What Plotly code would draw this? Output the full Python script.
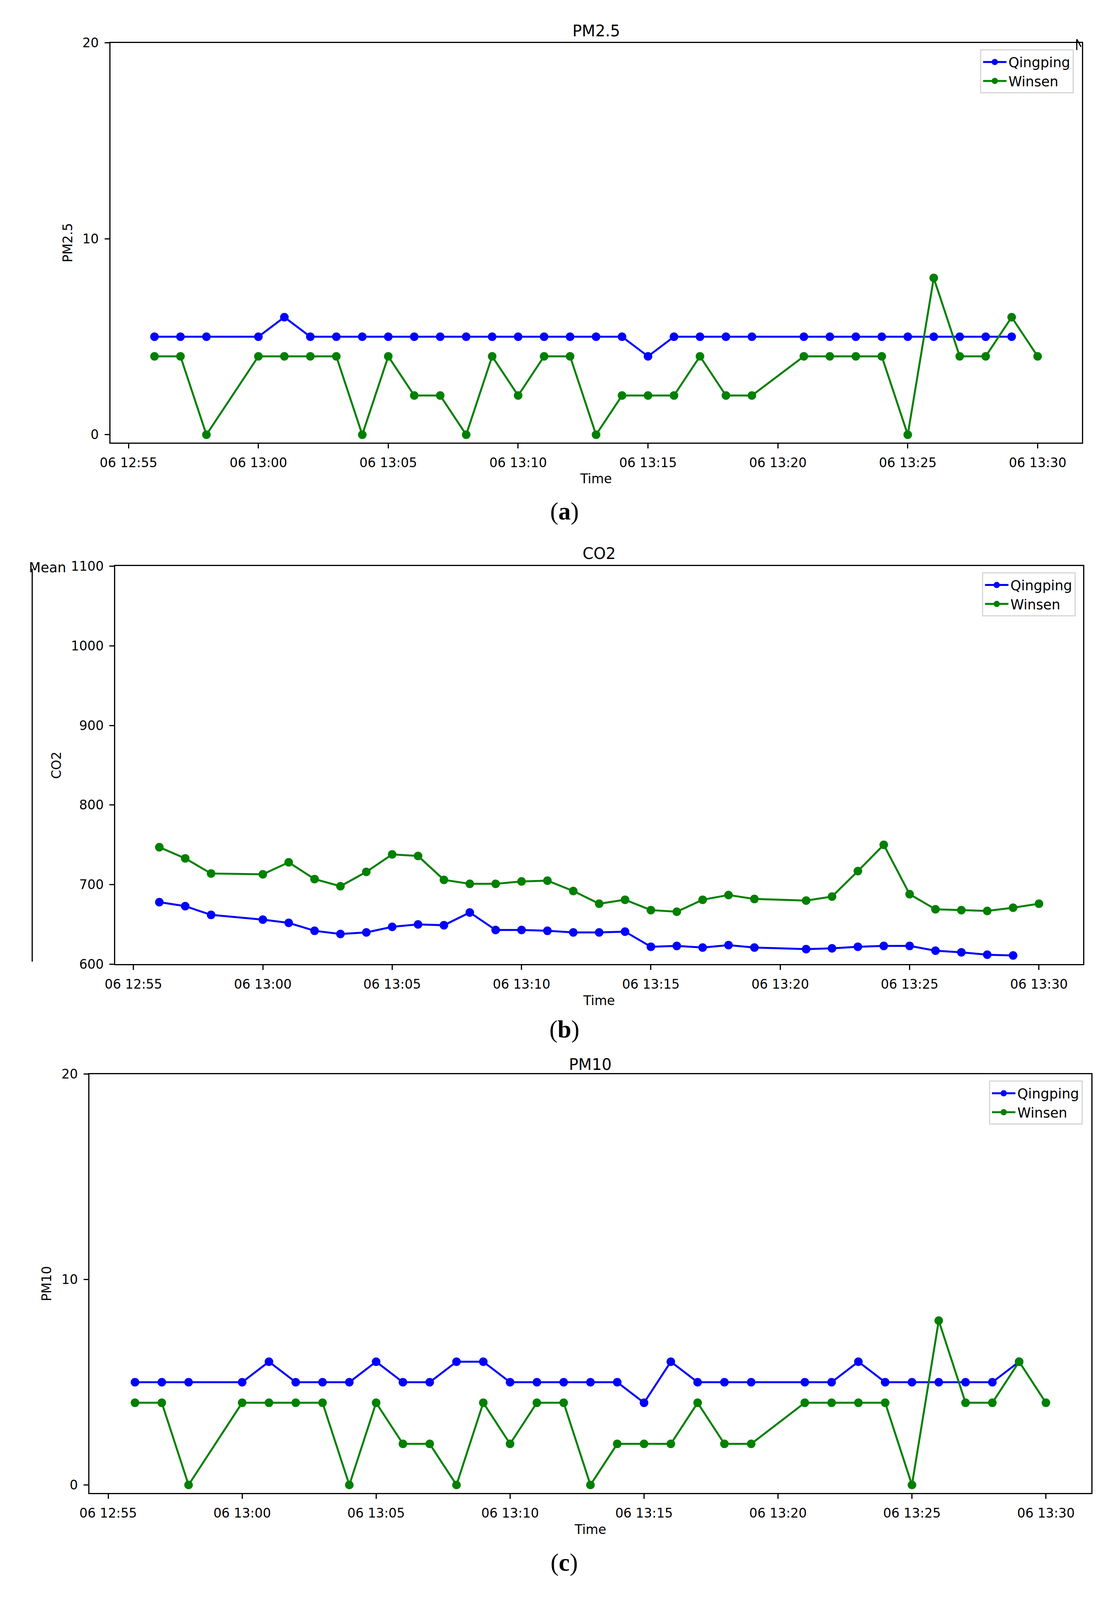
import plotly.graph_objects as go

# reference picture size (positions below are measured in it)
W, H = 2830, 4833
# the browser only shows 4096 px of height, so the figure is drawn to that and
# everything is placed in paper fractions of the reference picture
VIEW_H = 4096
FS = 0.9  # text/marker scale for the squeezed height
DAY = "2023-06-06 "

# --- data ---
qingping_times = ["12:56", "12:57", "12:58",
                  "13:00", "13:01", "13:02", "13:03", "13:04", "13:05", "13:06", "13:07", "13:08", "13:09",
                  "13:10", "13:11", "13:12", "13:13", "13:14", "13:15", "13:16", "13:17", "13:18", "13:19",
                  "13:21", "13:22", "13:23", "13:24", "13:25", "13:26", "13:27", "13:28", "13:29"]
winsen_times = qingping_times + ["13:30"]

pm25_qingping = [5, 5, 5,
                 5, 6, 5, 5, 5, 5, 5, 5, 5, 5,
                 5, 5, 5, 5, 5, 4, 5, 5, 5, 5,
                 5, 5, 5, 5, 5, 5, 5, 5, 5]
pm25_winsen = [4, 4, 0,
               4, 4, 4, 4, 0, 4, 2, 2, 0, 4,
               2, 4, 4, 0, 2, 2, 2, 4, 2, 2,
               4, 4, 4, 4, 0, 8, 4, 4, 6, 4]

co2_qingping = [678, 673, 662,
                656, 652, 642, 638, 640, 647, 650, 649, 665, 643,
                643, 642, 640, 640, 641, 622, 623, 621, 624, 621,
                619, 620, 622, 623, 623, 617, 615, 612, 611]
co2_winsen = [747, 733, 714,
              713, 728, 707, 698, 716, 738, 736, 706, 701, 701,
              704, 705, 692, 676, 681, 668, 666, 681, 687, 682,
              680, 685, 717, 750, 688, 669, 668, 667, 671, 676]

pm10_qingping = [5, 5, 5,
                 5, 6, 5, 5, 5, 6, 5, 5, 6, 6,
                 5, 5, 5, 5, 5, 4, 6, 5, 5, 5,
                 5, 5, 6, 5, 5, 5, 5, 5, 6]
pm10_winsen = [4, 4, 0,
               4, 4, 4, 4, 0, 4, 2, 2, 0, 4,
               2, 4, 4, 0, 2, 2, 2, 4, 2, 2,
               4, 4, 4, 4, 0, 8, 4, 4, 6, 4]

x_ticks = ["12:55", "13:00", "13:05", "13:10", "13:15", "13:20", "13:25", "13:30"]
x_limits = ["12:54:18", "13:31:42"]


def px(x):
    return x / W


def py(y):
    return 1 - y / H


FONT = "DejaVu Sans"
BLUE = "#0000ff"
GREEN = "#008000"
TICK = round(37 * FS)

# plot boxes in reference pixels: left, right, top, bottom
panels = [
    dict(name="PM2.5", box=(258, 2770, 108, 1327), yr=[-0.4, 20], yt=[0, 10, 20],
         q=pm25_qingping, w=pm25_winsen, title_y=71, leg=(2749, 128), cap="a", cap_y=1537),
    dict(name="CO2", box=(271, 2773, 1704, 2918), yr=[600, 1100], yt=[600, 700, 800, 900, 1000, 1100],
         q=co2_qingping, w=co2_winsen, title_y=1665, leg=(2754, 1723), cap="b", cap_y=3116),
    dict(name="PM10", box=(204, 2795, 3253, 4531), yr=[-0.4, 20], yt=[0, 10, 20],
         q=pm10_qingping, w=pm10_winsen, title_y=3224, leg=(2772, 3273), cap="c", cap_y=4743),
]

fig = go.Figure()
annotations = []
layout = {}

for i, p in enumerate(panels, start=1):
    sfx = "" if i == 1 else str(i)
    leg = "legend" + sfx
    l, r, t, b = p["box"]
    for label, times, vals, col in [("Qingping", qingping_times, p["q"], BLUE),
                                    ("Winsen", winsen_times, p["w"], GREEN)]:
        fig.add_trace(go.Scatter(
            x=[DAY + tm for tm in times], y=vals, name=label,
            mode="lines+markers",
            line=dict(color=col, width=5),
            marker=dict(color=col, size=22),
            xaxis="x" + sfx, yaxis="y" + sfx, legend=leg,
        ))

    axis_common = dict(showline=True, linecolor="black", linewidth=3, mirror=True,
                       ticks="outside", ticklen=12, tickwidth=3, tickcolor="black",
                       showgrid=False, zeroline=False, ticklabelstandoff=8,
                       tickfont=dict(family=FONT, size=TICK, color="black"))
    layout["xaxis" + sfx] = dict(
        axis_common, domain=[px(l), px(r)], anchor="y" + sfx, type="date",
        range=[DAY + x_limits[0], DAY + x_limits[1]],
        tickvals=[DAY + tk for tk in x_ticks], tickformat="%d %H:%M",
        title=dict(text="Time", standoff=12, font=dict(family=FONT, size=TICK, color="black")),
    )
    layout["yaxis" + sfx] = dict(
        axis_common, domain=[py(b), py(t)], anchor="x" + sfx,
        range=p["yr"], tickvals=p["yt"],
        title=dict(text=p["name"], standoff=16, font=dict(family=FONT, size=TICK, color="black")),
    )
    layout[leg] = dict(
        x=px(p["leg"][0]), y=py(p["leg"][1]), xanchor="right", yanchor="top",
        xref="paper", yref="paper",
        font=dict(family=FONT, size=TICK + 2, color="black"),
        bgcolor="white", bordercolor="#d6d6d6", borderwidth=3,
        itemwidth=60, tracegroupgap=4,
    )

    cx = (l + r) / 2
    annotations.append(dict(x=px(cx), y=py(p["title_y"]), text=p["name"], showarrow=False,
                            xref="paper", yref="paper", xanchor="center", yanchor="middle",
                            font=dict(family=FONT, size=round(44 * FS), color="black")))
    annotations.append(dict(x=px(1432), y=py(p["cap_y"]), text="(<b>%s</b>)" % p["cap"],
                            showarrow=False, xref="paper", yref="paper",
                            xanchor="center", yanchor="middle",
                            font=dict(family="Liberation Serif", size=round(70 * FS), color="black")))

# stray bits of a neighbouring figure that show in the picture
annotations.append(dict(x=px(45), y=py(1708), text="Mean", showarrow=False, xref="paper", yref="paper",
                        xanchor="left", yanchor="middle",
                        font=dict(family=FONT, size=round(39 * FS), color="black")))
shapes = [
    dict(type="line", xref="paper", yref="paper", x0=px(56), x1=px(56), y0=py(1712), y1=py(2910),
         line=dict(color="black", width=3)),
    dict(type="line", xref="paper", yref="paper", x0=px(2757), x1=px(2757), y0=py(97), y1=py(130),
         line=dict(color="black", width=3)),
    dict(type="line", xref="paper", yref="paper", x0=px(2757), x1=px(2768), y0=py(97), y1=py(120),
         line=dict(color="black", width=3)),
]

fig.update_layout(
    width=W, height=VIEW_H, autosize=False,
    margin=dict(l=0, r=0, t=0, b=0),
    paper_bgcolor="white", plot_bgcolor="white",
    showlegend=True,
    annotations=annotations, shapes=shapes,
    **layout,
)

# drop the page margin and fit the figure to the window actually shown
fit_js = """
document.body.style.margin = '0';
var gd = document.getElementById('{plot_id}');
if (window.innerWidth > 0 && window.innerHeight > 0) {
    Plotly.relayout(gd, {width: window.innerWidth, height: window.innerHeight});
}
"""
fig.write_html("out.html", post_script=fit_js, config={"displayModeBar": False})
